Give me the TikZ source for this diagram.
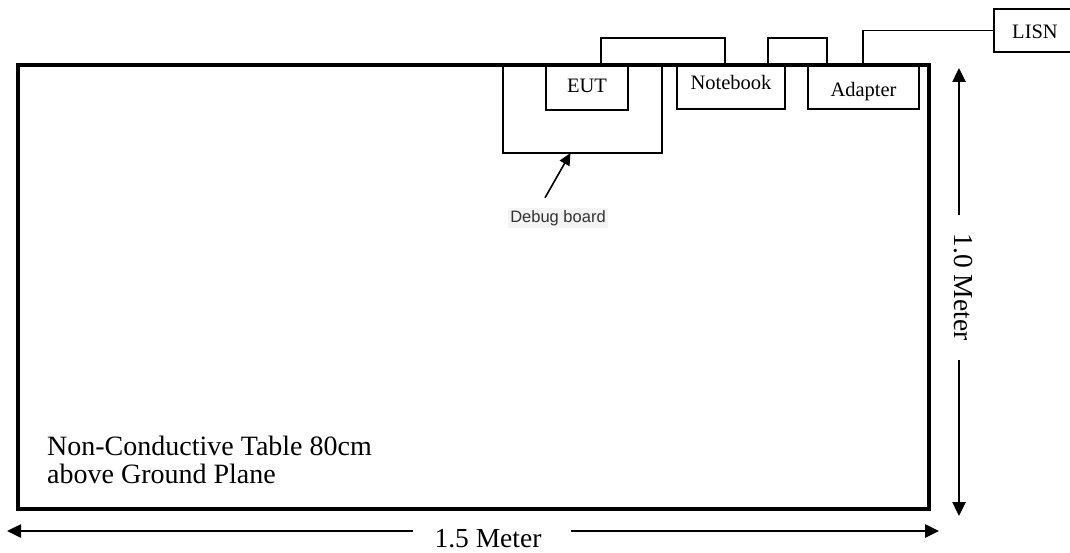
\documentclass[tikz,border=0pt]{standalone}
\usepackage{fontspec}
\setmainfont{Liberation Serif}
\newfontfamily\arialfont{Liberation Sans}
\usetikzlibrary{arrows.meta,calc}
\definecolor{dbgbg}{HTML}{F4F4F4}
\definecolor{dbgtxt}{HTML}{333333}
\begin{document}
\begin{tikzpicture}[x=1pt,y=-1pt,
  devbox/.style={draw,line width=1.5pt,rectangle,anchor=north west,inner sep=0pt,outer sep=0pt},
  devlabel/.style={anchor=base,inner sep=0pt,font=\fontsize{20.5}{24}\selectfont},
  cable/.style={line width=1.5pt},
  dimarrow/.style={line width=2.5pt,-{Triangle[length=14pt,width=13pt]}},
  bigtext/.style={inner sep=0pt,font=\fontsize{28}{28}\selectfont},
  dimtext/.style={inner sep=0pt,font=\fontsize{27.5}{28}\selectfont},
  ptrarrow/.style={line width=1.6pt,-{Triangle[length=12pt,width=11pt]}}
]
\useasboundingbox (0,0) rectangle (1070,553);
% equipment boxes
\node[devbox,minimum width=159pt,minimum height=88pt] (dbg) at (503,65) {};
\node[devbox,minimum width=82pt,minimum height=45pt] (eut) at (546,65) {};
\node[devbox,minimum width=108pt,minimum height=44pt] (nb) at (677,65) {};
\node[devbox,minimum width=111pt,minimum height=44pt] (ad) at (808,65) {};
\node[devbox,minimum width=90pt,minimum height=43pt] (lisn) at (994,9) {};
% labels
\node[devlabel] (eutt) at (587,93) {EUT};
\node[devlabel] (nbt) at (731,90) {Notebook};
\node[devlabel] (adt) at (863.5,97) {Adapter};
\node[devlabel] (lisnt) at (1035,39) {LISN};
% table
\node[draw,line width=4pt,rectangle,anchor=north west,inner sep=0pt,outer sep=0pt,
      minimum width=911pt,minimum height=444pt] (table) at (18,65) {};
\node[bigtext,anchor=north west,align=left] (tabtxt) at (47,436)
  {Non-Conductive Table 80cm\\above Ground Plane};
% cables
\draw[cable] ([xshift=14pt]eut.north) -- ++(0,27pt) -| ([xshift=-6pt]nb.north);
\draw[cable] ([xshift=37pt]nb.north) -- ++(0,27pt) -| ([xshift=-36.5pt]ad.north);
\draw[cable] ([xshift=-0.5pt]ad.north) |- (lisn.west);
% debug board pointer
\node[fill=dbgbg,text=dbgtxt,inner xsep=2.5pt,inner ysep=0pt,minimum height=20pt,
      font=\arialfont\fontsize{16.5}{18}\selectfont] (dbtxt) at (558,218) {Debug board};
\draw[ptrarrow] ([xshift=-13pt,yshift=10pt]dbtxt.north) -- ([xshift=-12pt]dbg.south);
% dimension 1.5 Meter
\node[dimtext,anchor=base] (wlab) at (488,547) {1.5 Meter};
\coordinate (wl) at (7,531);
\coordinate (wr) at (939,531);
\coordinate (wgl) at (413,531);
\coordinate (wgr) at (571,531);
\draw[dimarrow] (wgl) -- (wl);
\draw[dimarrow] (wgr) -- (wr);
% dimension 1.0 Meter
\node[dimtext,rotate=-90] (hlab) at (963,287) {1.0 Meter};
\coordinate (ht) at (959,68);
\coordinate (hb) at (959,516);
\coordinate (hgt) at (959,215);
\coordinate (hgb) at (959,360);
\draw[dimarrow] (hgt) -- (ht);
\draw[dimarrow] (hgb) -- (hb);
\end{tikzpicture}
\end{document}
